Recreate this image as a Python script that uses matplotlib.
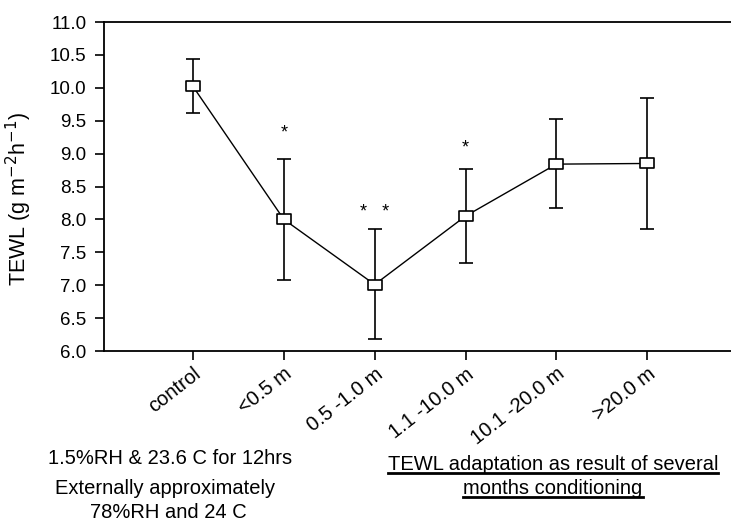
import numpy as np
import matplotlib
matplotlib.use("Agg")
import matplotlib.pyplot as plt
from matplotlib.path import Path
from matplotlib.lines import Line2D

plt.rcParams["font.family"] = ["Liberation Sans", "DejaVu Sans"]

# TEWL by time since conditioning
groups = ["control", "<0.5 m", "0.5 -1.0 m", "1.1 -10.0 m", "10.1 -20.0 m", ">20.0 m"]
tewl_mean = [10.02, 8.00, 7.01, 8.05, 8.84, 8.85]
tewl_upper = [10.44, 8.92, 7.85, 8.76, 9.52, 9.85]
tewl_lower = [9.62, 7.08, 6.18, 7.34, 8.17, 7.85]
# significance marks: (group index, y, text)
sig_marks = [(1, 9.32, "*"), (2, 8.11, "*   *"), (3, 9.08, "*")]

x = np.arange(len(groups))
mean = np.array(tewl_mean)
yerr = np.vstack([mean - np.array(tewl_lower), np.array(tewl_upper) - mean])

fig = plt.figure(figsize=(7.31, 5.26), dpi=100)
ax = fig.add_axes([104 / 731, 175 / 526, 634 / 731, 329 / 526])

# wide open box marker
box = Path([(-1.4, -1), (1.4, -1), (1.4, 1), (-1.4, 1), (-1.4, -1)],
           [Path.MOVETO, Path.LINETO, Path.LINETO, Path.LINETO, Path.CLOSEPOLY])

ax.errorbar(x, mean, yerr=yerr, fmt="none", ecolor="black", elinewidth=1.2,
            capsize=5, capthick=1.2, zorder=2)
ax.plot(x, mean, color="black", lw=1.0, marker=box, markersize=10,
        markerfacecolor="white", markeredgecolor="black", markeredgewidth=1.2, zorder=3)

for i, yv, s in sig_marks:
    ax.text(x[i], yv, s, ha="center", va="center", fontsize=13)

ax.set_xlim(-0.98, 6)
ax.set_ylim(6.0, 11.0)
yt = np.arange(6.0, 11.01, 0.5)
ax.set_yticks(yt)
ax.set_yticklabels([f"{v:.1f}" for v in yt], fontsize=13.5)
ax.set_xticks(x)
ax.set_xticklabels(groups, rotation=38, ha="right", rotation_mode="anchor", fontsize=14.5)
ax.tick_params(axis="both", direction="out", length=6.5, width=1.2, color="black")
ax.tick_params(axis="x", pad=3)
ax.tick_params(axis="y", pad=6)
ax.spines["right"].set_visible(False)
for sp in ("left", "top", "bottom"):
    ax.spines[sp].set_linewidth(1.3)

ax.set_ylabel("TEWL (g m$^{-2}$h$^{-1}$)", fontsize=15.5, va="center")
ax.yaxis.set_label_coords((19 - 104) / 634, (351 - 199) / 329)

fs = 14.5
fig.text(170 / 731, 1 - 458 / 526, "1.5%RH & 23.6 C for 12hrs", ha="center", va="center", fontsize=fs)
fig.text(165 / 731, 1 - 489 / 526, "Externally approximately", ha="center", va="center", fontsize=fs)
fig.text(168 / 731, 1 - 513 / 526, "78%RH and 24 C", ha="center", va="center", fontsize=fs)

under = [
    fig.text(553 / 731, 1 - 465 / 526, "TEWL adaptation as result of several",
             ha="center", va="center", fontsize=fs),
    fig.text(553 / 731, 1 - 489 / 526, "months conditioning",
             ha="center", va="center", fontsize=fs),
]
fig.canvas.draw()
renderer = fig.canvas.get_renderer()
for t in under:
    bb = t.get_window_extent(renderer).transformed(fig.transFigure.inverted())
    fig.add_artist(Line2D([bb.x0, bb.x1], [bb.y0 + 0.003, bb.y0 + 0.003],
                          transform=fig.transFigure, color="black", lw=2.0))

fig.savefig("out.png", dpi=100)
